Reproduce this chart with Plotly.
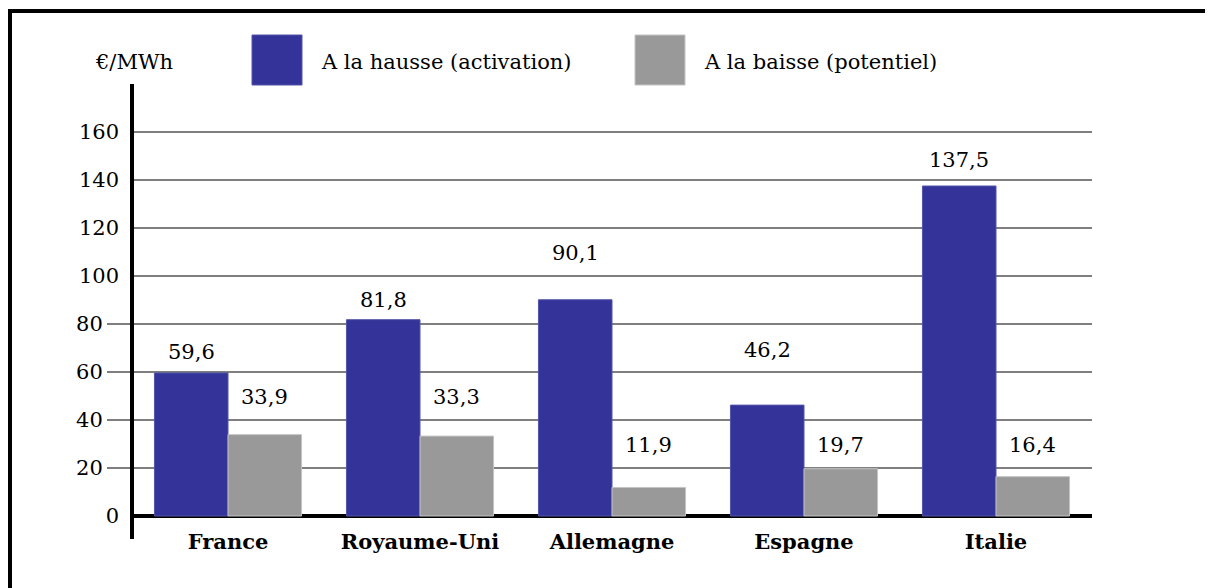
import plotly.graph_objects as go

# data
countries = ["France", "Royaume-Uni", "Allemagne", "Espagne", "Italie"]
hausse = [59.6, 81.8, 90.1, 46.2, 137.5]
baisse = [33.9, 33.3, 11.9, 19.7, 16.4]
hausse_labels = ["59,6", "81,8", "90,1", "46,2", "137,5"]
baisse_labels = ["33,9", "33,3", "11,9", "19,7", "16,4"]
series_names = ["A la hausse (activation)", "A la baisse (potentiel)"]
unit_label = "€/MWh"

BLUE = "#333399"
GREY = "#999999"
FONT = "DejaVu Serif"
FS = 21

# label lift above bar tops (px), as placed in the original
hausse_lift = [21, 20, 47, 55, 26]
baisse_lift = [38, 39, 42, 24, 32]

# the page puts the figure 8px in from the corner
OFF = 8
FIG_W, FIG_H = 1213 - OFF, 588 - OFF

# plot box in page pixels
L, R, T, B = 132, 1092, 84, 527
W, H = R - L, B - T


def px_x(p):
    return (p - L) / W


def px_y(p):
    return (B - p) / H


yrange = [-(B - 516) / 2.4, 180]

fig = go.Figure()
fig.add_trace(go.Bar(x=countries, y=hausse, name=series_names[0],
                     marker=dict(color=BLUE, line=dict(color="#5555aa", width=1))))
fig.add_trace(go.Bar(x=countries, y=baisse, name=series_names[1],
                     marker=dict(color=GREY, line=dict(color="#c4c4c4", width=1))))
# invisible trace to carry the second y axis (ticked gridlines)
fig.add_trace(go.Scatter(x=countries, y=hausse, yaxis="y2", mode="none",
                         showlegend=False, hoverinfo="skip"))

half = W / len(countries) * (1 - 0.234) / 4

annotations = []
for i, c in enumerate(countries):
    annotations.append(dict(x=c, y=hausse[i], text=hausse_labels[i], showarrow=False,
                            xshift=-half, yshift=hausse_lift[i], yanchor="middle",
                            font=dict(family=FONT, size=FS, color="black")))
    annotations.append(dict(x=c, y=baisse[i], text=baisse_labels[i], showarrow=False,
                            xshift=half, yshift=baisse_lift[i], yanchor="middle",
                            font=dict(family=FONT, size=FS, color="black")))

# legend built by hand: big squares with text
for x_left, text in [(93, unit_label), (319, series_names[0]), (702, series_names[1])]:
    annotations.append(dict(xref="paper", yref="paper", x=px_x(x_left), y=px_y(62), text=text,
                            showarrow=False, xanchor="left", yanchor="middle",
                            font=dict(family=FONT, size=FS, color="black")))

shapes = [
    dict(type="rect", xref="paper", yref="paper", x0=px_x(252), x1=px_x(302), y0=px_y(85), y1=px_y(35),
         fillcolor=BLUE, line=dict(color="#5555aa", width=1)),
    dict(type="rect", xref="paper", yref="paper", x0=px_x(635), x1=px_x(685), y0=px_y(85), y1=px_y(35),
         fillcolor=GREY, line=dict(color="#c4c4c4", width=1)),
    # y axis line, running a bit below zero
    dict(type="line", xref="paper", yref="paper", x0=0, x1=0, y0=px_y(539), y1=px_y(84),
         line=dict(color="black", width=4)),
    # outer frame
    dict(type="line", xref="paper", yref="paper", x0=px_x(7), x1=px_x(1214), y0=px_y(11), y1=px_y(11),
         line=dict(color="black", width=4)),
    dict(type="line", xref="paper", yref="paper", x0=px_x(9.5), x1=px_x(9.5), y0=px_y(9), y1=px_y(600),
         line=dict(color="black", width=5)),
    dict(type="line", xref="paper", yref="paper", x0=px_x(1211.5), x1=px_x(1211.5), y0=px_y(12), y1=px_y(600),
         line=dict(color="#7f7f7f", width=2)),
]

fig.update_layout(
    width=FIG_W, height=FIG_H,
    margin=dict(l=L - OFF, r=1213 - R, t=T - OFF, b=588 - B),
    paper_bgcolor="white", plot_bgcolor="white",
    barmode="group", bargap=0.234, bargroupgap=0,
    showlegend=False,
    font=dict(family=FONT, size=FS, color="black"),
    xaxis=dict(showgrid=False, showline=False, ticks="", zeroline=False,
               tickfont=dict(family=FONT, size=FS, color="black", weight="bold")),
    yaxis=dict(range=yrange, tickvals=[0, 100, 120, 140, 160], ticks="",
               showgrid=True, gridcolor="#7f7f7f", gridwidth=1.5,
               zeroline=True, zerolinecolor="black", zerolinewidth=4,
               showline=False, ticklabelstandoff=12,
               tickfont=dict(family=FONT, size=FS, color="black")),
    yaxis2=dict(range=yrange, overlaying="y", side="left",
                tickvals=[20, 40, 60, 80], ticks="outside", ticklen=24,
                tickcolor="#7f7f7f", tickwidth=1.5,
                showgrid=True, gridcolor="#7f7f7f", gridwidth=1.5,
                zeroline=False, showline=False,
                tickfont=dict(family=FONT, size=FS, color="black")),
    annotations=annotations,
    shapes=shapes,
)

fig.write_html("out.html")
